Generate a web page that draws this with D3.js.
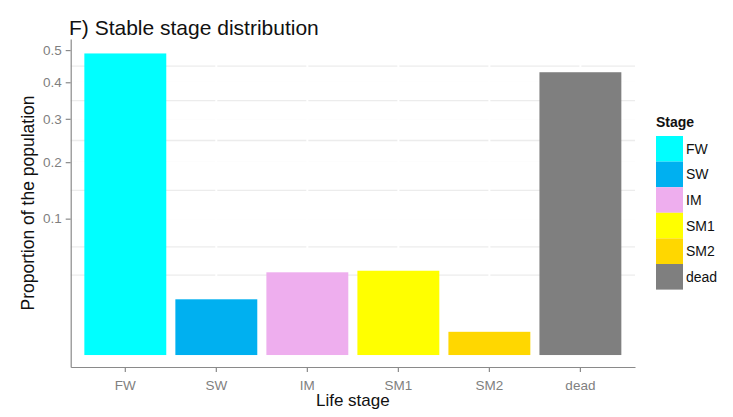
<!DOCTYPE html>
<html>
<head>
<meta charset="utf-8">
<script src="https://cdn.jsdelivr.net/npm/d3@7"></script>
<style>
  html, body { margin: 0; padding: 0; background: #ffffff; }
  svg { display: block; font-family: "Liberation Sans", Arial, sans-serif; }
</style>
</head>
<body>
<svg id="chart" width="733" height="417"></svg>
<script>
// Life stages and their share of the population at the stable distribution
const stages = ["FW", "SW", "IM", "SM1", "SM2", "dead"];
const proportions = [0.489, 0.0167, 0.0368, 0.0382, 0.0029, 0.430];
const stageColors = ["#00FFFF", "#00B0F0", "#EEAEEE", "#FFFF00", "#FFD700", "#7F7F7F"];
const yTicks = [0.1, 0.2, 0.3, 0.4, 0.5];
const yTickLabels = ["0.1", "0.2", "0.3", "0.4", "0.5"];

const svg = d3.select("#chart");
const panel = { left: 70.7, right: 635, top: 39, bottom: 367 };

const x = d3.scaleBand()
  .domain(stages)
  .range([panel.left, panel.right])
  .paddingInner(0.1)
  .paddingOuter(0.15);

// square-root scale; the small negative lower bound leaves room below zero
const y = d3.scaleSqrt()
  .domain([-0.00077, 0.537])
  .range([panel.bottom, panel.top]);

const color = d3.scaleOrdinal().domain(stages).range(stageColors);

// minor grid: midpoints between major breaks in square-root space,
// with one extra break added beyond each end of the major breaks
const sgn = v => (v < 0 ? -Math.sqrt(-v) : Math.sqrt(v));
const unsgn = t => (t < 0 ? -t * t : t * t);
const tMajor = yTicks.map(sgn);
const step = tMajor[1] - tMajor[0];
const [lo, hi] = y.domain().map(sgn);
let tb = tMajor.slice();
if (lo < tb[0]) tb.unshift(tb[0] - step);
if (hi > tb[tb.length - 1]) tb.push(tb[tb.length - 1] + step);
let tMinor = [];
for (let i = 0; i < tb.length - 1; i++) {
  tMinor.push(tb[i], (tb[i] + tb[i + 1]) / 2);
}
tMinor.push(tb[tb.length - 1]);
const minorVals = tMinor.filter(t => t >= lo && t <= hi).map(unsgn);

const grid = svg.append("g");
grid.selectAll("line.minor")
  .data(minorVals)
  .join("line")
  .attr("class", "minor")
  .attr("x1", panel.left).attr("x2", panel.right)
  .attr("y1", d => y(d)).attr("y2", d => y(d))
  .attr("stroke", "#ececec")
  .attr("stroke-width", 1.3);

grid.selectAll("line.majorY")
  .data(yTicks)
  .join("line")
  .attr("class", "majorY")
  .attr("x1", panel.left).attr("x2", panel.right)
  .attr("y1", d => y(d)).attr("y2", d => y(d))
  .attr("stroke", "#ffffff")
  .attr("stroke-width", 2);

grid.selectAll("line.majorX")
  .data(stages)
  .join("line")
  .attr("class", "majorX")
  .attr("x1", d => x(d) + x.bandwidth() / 2).attr("x2", d => x(d) + x.bandwidth() / 2)
  .attr("y1", panel.top).attr("y2", panel.bottom)
  .attr("stroke", "#ffffff")
  .attr("stroke-width", 2);

// bars
svg.append("g")
  .selectAll("rect")
  .data(stages.map((s, i) => ({ stage: s, value: proportions[i] })))
  .join("rect")
  .attr("x", d => x(d.stage))
  .attr("width", x.bandwidth())
  .attr("y", d => y(d.value))
  .attr("height", d => y(0) - y(d.value))
  .attr("fill", d => color(d.stage));

// axes
const axisColor = "#8a8a8a";
const tickTextColor = "#7f7f7f";

const yAxis = svg.append("g")
  .attr("transform", `translate(${panel.left},0)`)
  .call(d3.axisLeft(y)
    .tickValues(yTicks)
    .tickFormat((d, i) => yTickLabels[i])
    .tickSize(5)
    .tickSizeOuter(0)
    .tickPadding(4));

const xAxis = svg.append("g")
  .attr("transform", `translate(0,${panel.bottom})`)
  .call(d3.axisBottom(x)
    .tickSize(5)
    .tickSizeOuter(0)
    .tickPadding(8));

[yAxis, xAxis].forEach(g => {
  g.attr("font-family", null).attr("font-size", null);
  g.select(".domain").attr("stroke", axisColor).attr("stroke-width", 1.2);
  g.selectAll(".tick line").attr("stroke", axisColor).attr("stroke-width", 1.2);
  g.selectAll(".tick text")
    .attr("fill", tickTextColor)
    .style("font-size", "13.5px");
});

// titles
svg.append("text")
  .attr("x", 69)
  .attr("y", 35)
  .attr("fill", "#111")
  .style("font-size", "21px")
  .text("F) Stable stage distribution");

svg.append("text")
  .attr("x", (panel.left + panel.right) / 2)
  .attr("y", 406)
  .attr("text-anchor", "middle")
  .attr("fill", "#111")
  .style("font-size", "17px")
  .text("Life stage");

svg.append("text")
  .attr("transform", `translate(34,${(panel.top + panel.bottom) / 2}) rotate(-90)`)
  .attr("text-anchor", "middle")
  .attr("fill", "#111")
  .style("font-size", "17.5px")
  .text("Proportion of the population");

// legend
const legend = svg.append("g").attr("transform", "translate(656,0)");
legend.append("text")
  .attr("x", 0)
  .attr("y", 127)
  .attr("fill", "#111")
  .style("font-size", "14px")
  .style("font-weight", "bold")
  .text("Stage");

const keyH = 25.6, keyW = 27, keyTop = 136;
const items = legend.selectAll("g.item")
  .data(stages)
  .join("g")
  .attr("class", "item")
  .attr("transform", (d, i) => `translate(0,${keyTop + i * keyH})`);
items.append("rect")
  .attr("width", keyW)
  .attr("height", keyH)
  .attr("fill", d => color(d));
items.append("text")
  .attr("x", keyW + 3)
  .attr("y", keyH / 2)
  .attr("dy", "0.36em")
  .attr("fill", "#111")
  .style("font-size", "14px")
  .text(d => d);
</script>
</body>
</html>
